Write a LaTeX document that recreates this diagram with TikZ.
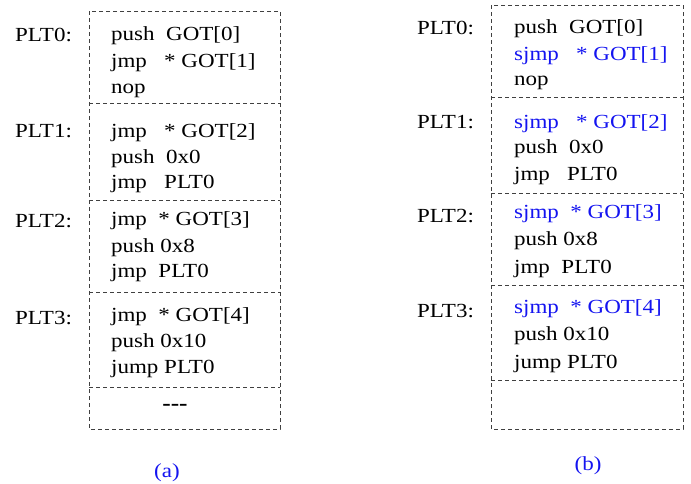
\documentclass[tikz,border=0pt]{standalone}
\usepackage{fontspec}
\setmainfont{Liberation Serif}[FakeStretch=1.15]
\definecolor{frame}{HTML}{404040}
\definecolor{patch}{HTML}{1414F0}
\tikzset{slot/.style={draw=frame,dash pattern=on 4pt off 3pt,line width=0.9pt},
  code/.style={anchor=base west,inner sep=0pt,font=\fontsize{20}{24}\selectfont},
  caption/.style={anchor=base,inner sep=0pt,font=\fontsize{20}{24}\selectfont,text=patch}}
\newcommand{\fix}[1]{\textcolor{patch}{#1}}

\begin{document}
\begin{tikzpicture}[x=1pt,y=-1pt]
\useasboundingbox (0,0) rectangle (691,483);
% Left table: the original PLT entries.
\draw[slot] (89,11) rectangle (280,429);
\foreach \y in {103,200,292,387}
  \draw[slot] (89,\y) -- (280,\y);
\foreach \y/\lab [count=\i from 0] in {41/PLT0:,137/PLT1:,227/PLT2:,324/PLT3:}
  \node[code] (la\i) at (15,\y) {\lab};
\foreach \y/\txt [count=\i] in {40/{push~~GOT[0]},67/{jmp~~~*~GOT[1]},93/{nop},
    137/{jmp~~~*~GOT[2]},163/{push~~0x0},188/{jmp~~~PLT0},
    225/{jmp~~*~GOT[3]},252/{push 0x8},277/{jmp~~PLT0},
    321/{jmp~~*~GOT[4]},347/{push 0x10},373/{jump PLT0}}
  \node[code] (ca\i) at (111,\y) {\txt};
\node[inner sep=0pt,font=\fontsize{22}{24}\selectfont\bfseries] (more) at (175,407) {-{}-{}-};
\node[caption] (capa) at (167,477) {(a)};
% Right table: jumps replaced by sjmp.
\draw[slot] (491,5) rectangle (683,429);
\foreach \y in {97,193,285,380}
  \draw[slot] (491,\y) -- (683,\y);
\foreach \y/\lab [count=\i from 0] in {34/PLT0:,128/PLT1:,222/PLT2:,317/PLT3:}
  \node[code] (lb\i) at (417,\y) {\lab};
\foreach \y/\txt [count=\i] in {33/{push~~GOT[0]},60/{\fix{sjmp~~~*~GOT[1]}},85/{nop},
    128/{\fix{sjmp~~~*~GOT[2]}},153/{push~~0x0},180/{jmp~~~PLT0},
    218/{\fix{sjmp~~*~GOT[3]}},245/{push 0x8},273/{jmp~~PLT0},
    313/{\fix{sjmp~~*~GOT[4]}},340/{push 0x10},368/{jump PLT0}}
  \node[code] (cb\i) at (514,\y) {\txt};
\node[caption] (capb) at (588,470) {(b)};
\end{tikzpicture}
\end{document}
